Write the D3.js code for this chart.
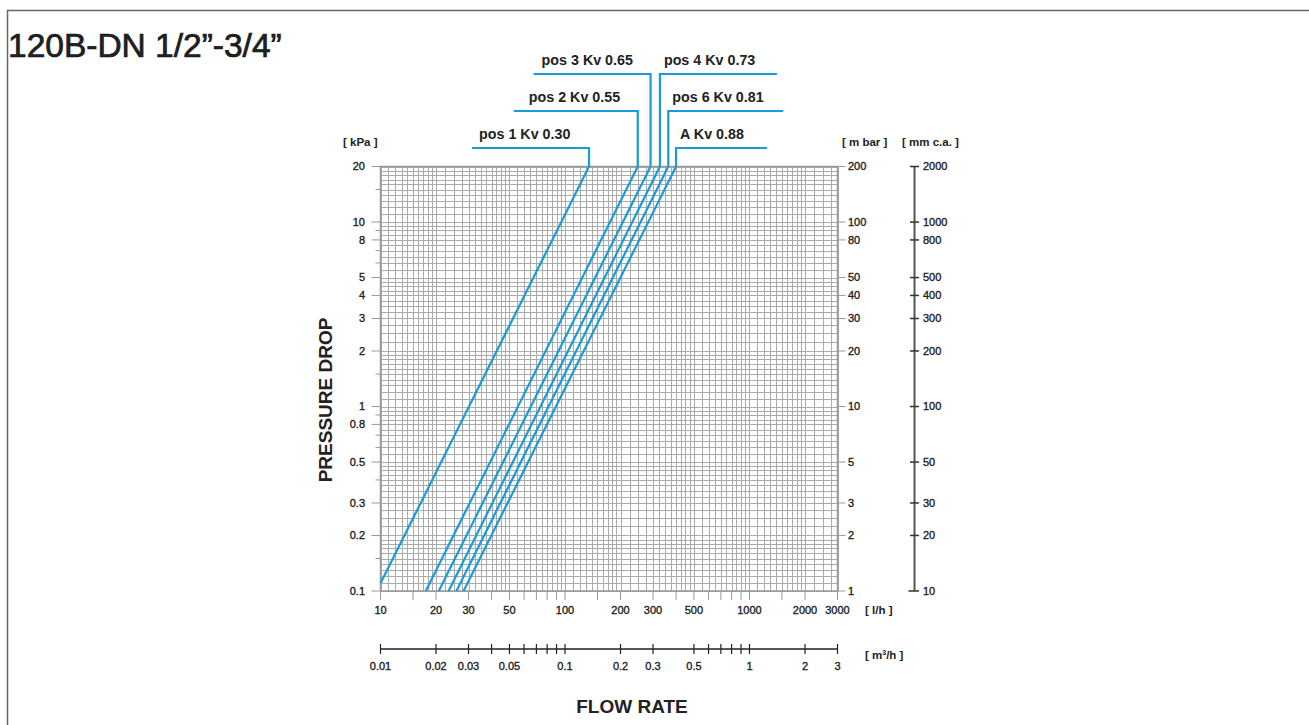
<!DOCTYPE html>
<html>
<head>
<meta charset="utf-8">
<script src="https://cdn.jsdelivr.net/npm/d3@7"></script>
<style>
  body { margin: 0; background: #fff; }
  text { font-family: "Liberation Sans", Arial, Helvetica, sans-serif; fill: #222; }
  .tick { stroke: #222; stroke-width: 0.35; }
</style>
</head>
<body>
<script>
// curves: flow (l/h) at both ends of each straight line, pressure drop in kPa
const seriesNames = ["pos 1 Kv 0.30", "pos 2 Kv 0.55", "pos 3 Kv 0.65", "pos 4 Kv 0.73", "pos 6 Kv 0.81", "A Kv 0.88"]
const flowLow = [10, 17.6, 20.7, 23.4, 25.8, 28.2]
const dropLow = [0.11, 0.1, 0.1, 0.1, 0.1, 0.1]
const flowHigh = [135, 248, 291, 327, 363, 400]
const dropHigh = [20, 20, 20, 20, 20, 20]

// axis tick labels
const kpaTicks = [20, 10, 8, 5, 4, 3, 2, 1, 0.8, 0.5, 0.3, 0.2, 0.1]
const mbarTicks = [200, 100, 80, 50, 40, 30, 20, 10, 5, 3, 2, 1]
const mmTicks = [2000, 1000, 800, 500, 400, 300, 200, 100, 50, 30, 20, 10]
const lhTicks = [10, 20, 30, 50, 100, 200, 300, 500, 1000, 2000, 3000]
const lhMinor = [15, 40, 60, 70, 80, 90, 150, 400, 600, 700, 800, 900, 1500]
const m3Labels = [0.01, 0.02, 0.03, 0.05, 0.1, 0.2, 0.3, 0.5, 1, 2, 3]
const m3Ticks = [0.01, 0.02, 0.03, 0.04, 0.05, 0.06, 0.07, 0.08, 0.09, 0.1, 0.2, 0.3, 0.5, 0.6, 0.7, 0.8, 0.9, 1, 2, 3]

let w = 1309
let h = 725

let svg = d3.select("body")
    .append("svg")
    .attr("width", w)
    .attr("height", h)

let x = d3.scaleLog().domain([10, 3000]).range([380.5, 837.5])
let xm3 = d3.scaleLog().domain([0.01, 3]).range([380.5, 837.5])
let y = d3.scaleLog().domain([0.1, 20]).range([591, 166.5])
let yMbar = d3.scaleLog().domain([1, 200]).range(y.range())
let yMm = d3.scaleLog().domain([10, 2000]).range(y.range())

let fmt = d => String(+d.toPrecision(3))

// page frame (top and left only)
svg.append("path")
    .attr("d", "M7.5,725V10.5H1309")
    .attr("fill", "none")
    .attr("stroke", "#666")
    .attr("stroke-width", 1.5)

svg.append("text")
    .attr("x", 8)
    .attr("y", 57)
    .attr("font-size", 33.5)
    .attr("stroke", "#111")
    .attr("stroke-width", 0.7)
    .text("120B-DN 1/2\u201D-3/4\u201D")

// chart paper grid
function gridValues(lo, hi) {
    let out = []
    for (let e = -2; e <= 4; e++) {
        let b = Math.pow(10, e)
        for (let i = 10; i < 20; i++) out.push(b * i / 10)
        for (let i = 20; i < 50; i += 2.5) out.push(b * i / 10)
        for (let i = 50; i < 100; i += 5) out.push(b * i / 10)
    }
    return out.map(v => +v.toPrecision(4)).filter(v => v >= lo && v <= hi)
}

let grid = svg.append("g")
    .attr("stroke", "#ababab")
    .attr("stroke-width", 1)

grid.selectAll(".gx")
    .data(gridValues(10, 3000))
    .enter()
    .append("line")
    .attr("x1", d => Math.round(x(d)) + 0.5)
    .attr("x2", d => Math.round(x(d)) + 0.5)
    .attr("y1", y(20))
    .attr("y2", y(0.1))

grid.selectAll(".gy")
    .data(gridValues(0.1, 20))
    .enter()
    .append("line")
    .attr("y1", d => Math.round(y(d)) + 0.5)
    .attr("y2", d => Math.round(y(d)) + 0.5)
    .attr("x1", x(10))
    .attr("x2", x(3000))

svg.append("rect")
    .attr("x", x(10))
    .attr("y", y(20))
    .attr("width", x(3000) - x(10))
    .attr("height", y(0.1) - y(20))
    .attr("fill", "none")
    .attr("stroke", "#999")
    .attr("stroke-width", 1.5)

// left axis, kPa
let left = svg.append("g").attr("stroke", "#999").attr("stroke-width", 1)
let leftMinor = gridValues(0.1, 20).filter(v => {
    let m = v / Math.pow(10, Math.floor(Math.log10(v) + 1e-9))
    return Math.abs(m - Math.round(m)) < 1e-6 || Math.abs(m - 1.5) < 1e-6
})
left.selectAll("line")
    .data(leftMinor)
    .enter()
    .append("line")
    .attr("x1", d => kpaTicks.includes(d) ? x(10) - 9 : x(10) - 5)
    .attr("x2", x(10))
    .attr("y1", d => y(d))
    .attr("y2", d => y(d))

svg.append("g")
    .selectAll("text")
    .data(kpaTicks)
    .enter()
    .append("text")
    .attr("class", "tick")
    .attr("x", 365)
    .attr("y", d => y(d))
    .attr("dy", "0.35em")
    .attr("text-anchor", "end")
    .attr("font-size", 11)
    .text(fmt)

svg.append("text")
    .attr("x", 343)
    .attr("y", 146)
    .attr("font-size", 11.5)
    .attr("font-weight", "bold")
    .text("[ kPa ]")

// right axis, m bar
svg.append("g").attr("stroke", "#999")
    .selectAll("line")
    .data(mbarTicks)
    .enter()
    .append("line")
    .attr("x1", x(3000))
    .attr("x2", x(3000) + 8)
    .attr("y1", d => yMbar(d))
    .attr("y2", d => yMbar(d))

svg.append("g")
    .selectAll("text")
    .data(mbarTicks)
    .enter()
    .append("text")
    .attr("class", "tick")
    .attr("x", 848)
    .attr("y", d => yMbar(d))
    .attr("dy", "0.35em")
    .attr("font-size", 11)
    .text(fmt)

svg.append("text")
    .attr("x", 842)
    .attr("y", 146)
    .attr("font-size", 11.5)
    .attr("font-weight", "bold")
    .text("[ m bar ]")

// mm c.a. axis
let mmX = 914.5
svg.append("line")
    .attr("x1", mmX).attr("x2", mmX)
    .attr("y1", yMm(2000)).attr("y2", yMm(10))
    .attr("stroke", "#555")
    .attr("stroke-width", 2)

svg.append("g").attr("stroke", "#333").attr("stroke-width", 1.5)
    .selectAll("line")
    .data(mmTicks)
    .enter()
    .append("line")
    .attr("x1", d => d == 10 ? mmX - 6 : mmX - 4.5)
    .attr("x2", mmX + 4.5)
    .attr("y1", d => yMm(d))
    .attr("y2", d => yMm(d))

svg.append("g")
    .selectAll("text")
    .data(mmTicks)
    .enter()
    .append("text")
    .attr("class", "tick")
    .attr("x", 923)
    .attr("y", d => yMm(d))
    .attr("dy", "0.35em")
    .attr("font-size", 11)
    .text(fmt)

svg.append("text")
    .attr("x", 902)
    .attr("y", 146)
    .attr("font-size", 11.5)
    .attr("font-weight", "bold")
    .text("[ mm c.a. ]")

// bottom axis, l/h
svg.append("g").attr("stroke", "#999")
    .selectAll("line")
    .data(lhTicks.concat(lhMinor))
    .enter()
    .append("line")
    .attr("x1", d => x(d))
    .attr("x2", d => x(d))
    .attr("y1", y(0.1))
    .attr("y2", y(0.1) + 9)

svg.append("g")
    .selectAll("text")
    .data(lhTicks)
    .enter()
    .append("text")
    .attr("class", "tick")
    .attr("x", d => x(d))
    .attr("y", 614)
    .attr("text-anchor", "middle")
    .attr("font-size", 11)
    .text(fmt)

svg.append("text")
    .attr("x", 865)
    .attr("y", 614)
    .attr("font-size", 11.5)
    .attr("font-weight", "bold")
    .text("[ l/h ]")

// m3/h axis
let m3Y = 649
svg.append("line")
    .attr("x1", xm3(0.01)).attr("x2", xm3(3))
    .attr("y1", m3Y).attr("y2", m3Y)
    .attr("stroke", "#222")
    .attr("stroke-width", 1.5)

svg.append("g").attr("stroke", "#222").attr("stroke-width", 1.2)
    .selectAll("line")
    .data(m3Ticks)
    .enter()
    .append("line")
    .attr("x1", d => xm3(d))
    .attr("x2", d => xm3(d))
    .attr("y1", m3Y - 5)
    .attr("y2", m3Y + 5)

svg.append("g")
    .selectAll("text")
    .data(m3Labels)
    .enter()
    .append("text")
    .attr("class", "tick")
    .attr("x", d => xm3(d))
    .attr("y", 670)
    .attr("text-anchor", "middle")
    .attr("font-size", 11)
    .text(fmt)

let m3Label = svg.append("text")
    .attr("x", 865)
    .attr("y", 659)
    .attr("font-size", 11.5)
    .attr("font-weight", "bold")
m3Label.append("tspan").text("[ m")
m3Label.append("tspan").attr("dy", -4).attr("font-size", 7).text("3")
m3Label.append("tspan").attr("dy", 4).text("/h ]")

// axis titles
svg.append("text")
    .attr("transform", "translate(332,400) rotate(-90)")
    .attr("text-anchor", "middle")
    .attr("font-size", 19)
    .attr("font-weight", "bold")
    .text("PRESSURE DROP")

svg.append("text")
    .attr("x", 632)
    .attr("y", 713)
    .attr("text-anchor", "middle")
    .attr("font-size", 19)
    .attr("font-weight", "bold")
    .text("FLOW RATE")

// curves and their leader lines
let series = seriesNames.map((name, i) => ({
    name: name,
    pts: [[flowLow[i], dropLow[i]], [flowHigh[i], dropHigh[i]]]
}))

// leader layout: height of the horizontal, side, length, label shift
let leaderY = [148, 111, 74, 74, 111, 148]
let leaderLen = [-117, -124, -117, 117, 115, 91]
let labelDx = [7, 15, 8, 4, 4, 4]

let line = d3.line()
    .x(d => x(d[0]))
    .y(d => y(d[1]))

let curves = svg.append("g")
    .attr("fill", "none")
    .attr("stroke", "#1a9ad6")
    .attr("stroke-width", 2.2)

curves.selectAll(".curve")
    .data(series)
    .enter()
    .append("path")
    .attr("d", d => line(d.pts))

curves.selectAll(".leader")
    .data(series)
    .enter()
    .append("path")
    .attr("d", (d, i) => {
        let x0 = x(d.pts[1][0])
        let y0 = y(d.pts[1][1])
        return "M" + x0 + "," + y0 + "V" + leaderY[i] + "h" + leaderLen[i]
    })

svg.append("g")
    .selectAll("text")
    .data(series)
    .enter()
    .append("text")
    .attr("x", (d, i) => {
        let x0 = x(d.pts[1][0])
        return leaderLen[i] < 0 ? x0 + leaderLen[i] + labelDx[i] : x0 + labelDx[i]
    })
    .attr("y", (d, i) => leaderY[i] - 9)
    .attr("font-size", 14.3)
    .attr("font-weight", "bold")
    .text(d => d.name)
</script>
</body>
</html>
